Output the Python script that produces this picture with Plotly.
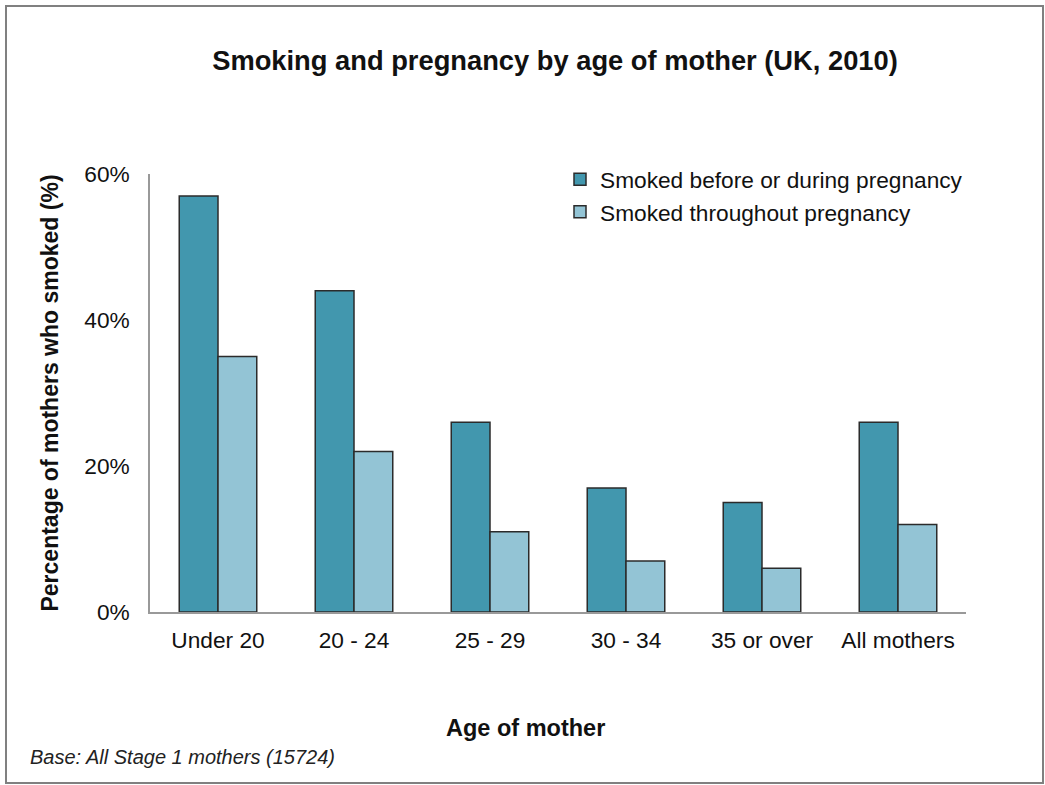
import plotly.graph_objects as go

categories = ["Under 20", "20 - 24", "25 - 29", "30 - 34", "35 or over", "All mothers"]
before_or_during = [57, 44, 26, 17, 15, 26]
throughout = [35, 22, 11, 7, 6, 12]
y_ticks = [0, 20, 40, 60]
y_tick_labels = ["0%", "20%", "40%", "60%"]

FONT = "Arial, Liberation Sans, sans-serif"
W, H = 1045, 785
L, R, T, B = 150, 79, 174, 173
pw, ph = W - L - R, H - T - B

def px_x(x):
    return (x - L) / pw

def px_y(y):
    return (H - B - y) / ph

fig = go.Figure()
fig.add_trace(go.Bar(
    x=categories, y=before_or_during, name="Smoked before or during pregnancy",
    marker=dict(color="#4297AE", line=dict(color="#2b2b2b", width=1.5)),
))
fig.add_trace(go.Bar(
    x=categories, y=throughout, name="Smoked throughout pregnancy",
    marker=dict(color="#93C4D5", line=dict(color="#2b2b2b", width=1.5)),
))

fig.update_layout(
    width=W, height=H,
    margin=dict(l=L, r=R, t=T, b=B, autoexpand=False),
    paper_bgcolor="white", plot_bgcolor="white",
    font=dict(family=FONT, color="#111", size=22.7),
    barmode="group", bargap=0.43, bargroupgap=0,
    title=dict(text="<b>Smoking and pregnancy by age of mother (UK, 2010)</b>",
               x=px_x(555), xref="paper", xanchor="center",
               y=1 - 60 / H, yanchor="middle", font=dict(size=27.3, family=FONT, color="#111")),
    showlegend=True,
    legend=dict(x=px_x(560), y=px_y(158), xanchor="left", yanchor="top",
                font=dict(size=22.7, family=FONT, color="#111"),
                bgcolor="rgba(0,0,0,0)", itemwidth=30, tracegroupgap=0),
    xaxis=dict(showline=True, linecolor="#999", linewidth=2, ticks="",
               tickfont=dict(size=22.7, family=FONT, color="#111"),
               ticklabelstandoff=7, showgrid=False, fixedrange=True),
    yaxis=dict(range=[0, 60], tickvals=y_ticks, ticktext=y_tick_labels,
               showline=True, linecolor="#999", linewidth=1.5, ticks="",
               showgrid=False, zeroline=False,
               tickfont=dict(size=22.7, family=FONT, color="#111"),
               ticklabelstandoff=14,
               title=dict(text="<b>Percentage of mothers who smoked (%)</b>",
                          font=dict(size=23, family=FONT, color="#111"), standoff=19)),
    shapes=[dict(type="rect", xref="paper", yref="paper",
                 x0=px_x(6), x1=px_x(1043), y0=px_y(783), y1=px_y(6),
                 line=dict(color="#808080", width=2), fillcolor="rgba(0,0,0,0)", layer="below")],
    annotations=[
        dict(text="<b>Age of mother</b>", x=px_x(525), y=px_y(728), xref="paper", yref="paper",
             showarrow=False, xanchor="center", yanchor="middle",
             font=dict(size=23.5, family=FONT, color="#111")),
        dict(text="<i>Base: All Stage 1 mothers (15724)</i>", x=px_x(28), y=px_y(757),
             xref="paper", yref="paper", showarrow=False, xanchor="left", yanchor="middle",
             font=dict(size=20, family=FONT, color="#222")),
    ],
)

fig.write_html("out.html")
